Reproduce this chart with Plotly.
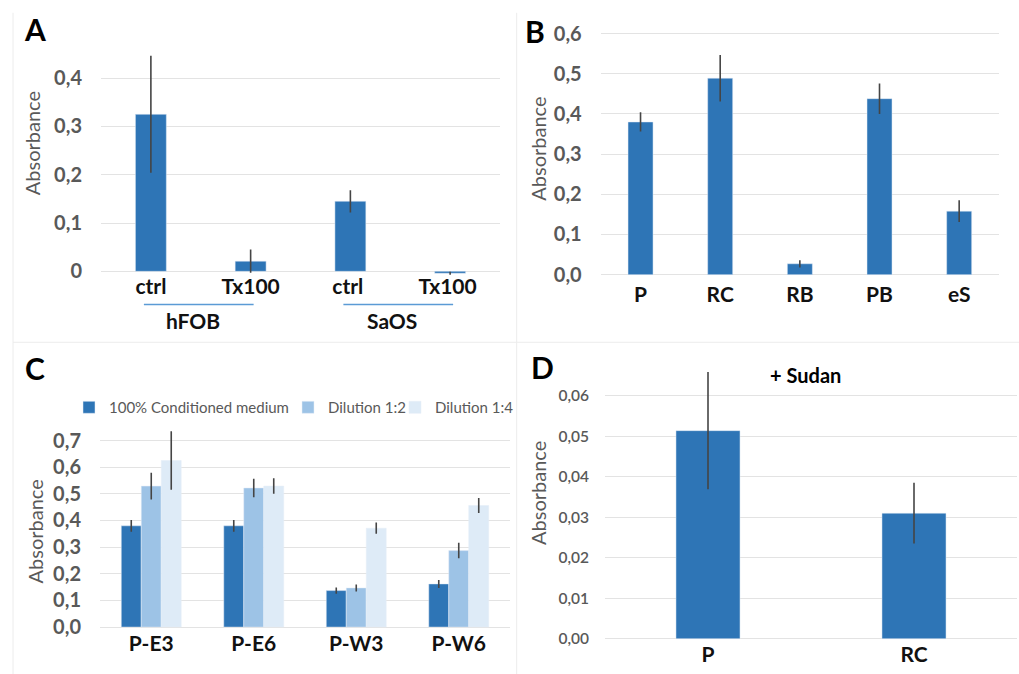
import plotly.graph_objects as go

W, H = 1019, 674
# the screenshot maps figure y to screen as y_s = OFF + S * y; compensate so that
# positions measured on the reference land where they should
S, OFF = 0.968, 11.2
def px(x): return x / W
def fy(y_ref): return (y_ref - OFF) / S
def py(y_ref): return 1 - fy(y_ref) / H

# ---------- data ----------
a_cats = ["ctrl", "Tx100", "ctrl ", "Tx100 "]
a_vals = [0.325, 0.021, 0.145, -0.004]
a_err = [0.121, 0.024, 0.023, 0.003]
a_groups = ["hFOB", "SaOS"]

b_cats = ["P", "RC", "RB", "PB", "eS"]
b_vals = [0.380, 0.489, 0.027, 0.438, 0.158]
b_err = [0.024, 0.058, 0.009, 0.038, 0.027]

c_cats = ["P-E3", "P-E6", "P-W3", "P-W6"]
c_series = ["100% Conditioned medium", "Dilution 1:2", "Dilution 1:4"]
c_vals = [
    [0.380, 0.380, 0.137, 0.162],
    [0.529, 0.522, 0.147, 0.287],
    [0.625, 0.529, 0.371, 0.456],
]
c_err = [
    [0.022, 0.022, 0.012, 0.015],
    [0.050, 0.035, 0.013, 0.029],
    [0.110, 0.029, 0.021, 0.028],
]

d_cats = ["P", "RC"]
d_vals = [0.0514, 0.0310]
d_err = [0.0145, 0.0075]

BLUE = "#2e75b6"
C_COLORS = ["#2e75b6", "#9dc3e6", "#deebf7"]
ERR = "#454545"
GRID = "#e3e3e3"
GRAY = "#595959"
FONT = "Lato"

fig = go.Figure()

def err(arr):
    return dict(type="data", array=arr, color=ERR, thickness=1.6, width=0, visible=True)

fig.add_trace(go.Bar(x=a_cats, y=a_vals, error_y=err(a_err), marker_color=BLUE,
                     width=0.31, xaxis="x", yaxis="y", showlegend=False))
fig.add_trace(go.Bar(x=b_cats, y=b_vals, error_y=err(b_err), marker_color=BLUE,
                     width=0.314, xaxis="x2", yaxis="y2", showlegend=False))
legend_ids = ["legend", "legend2", "legend3"]
for name, vals, e, col, lg in zip(c_series, c_vals, c_err, C_COLORS, legend_ids):
    fig.add_trace(go.Bar(x=c_cats, y=vals, error_y=err(e), marker_color=col, name=name,
                         xaxis="x3", yaxis="y3", showlegend=True, legend=lg))
fig.add_trace(go.Bar(x=d_cats, y=d_vals, error_y=err(d_err), marker_color=BLUE,
                     width=0.311, xaxis="x4", yaxis="y4", showlegend=False))

xt = dict(family=FONT, size=21, color="#111111", weight="bold")
yt = dict(family=FONT, size=20, color=GRAY, weight="bold")

def xax(x0, x1, anchor, standoff=0):
    return dict(domain=[px(x0), px(x1)], anchor=anchor, type="category",
                showgrid=False, showline=False, ticks="", tickfont=xt,
                ticklabelstandoff=standoff, fixedrange=True)

def yax(zero_px, scale, rng, dtick, fmt, anchor, font=yt, standoff=18):
    bottom = zero_px - rng[0] * scale
    top = zero_px - rng[1] * scale
    return dict(domain=[py(bottom), py(top)], anchor=anchor, range=rng, dtick=dtick,
                tickformat=fmt, showgrid=True, gridcolor=GRID, gridwidth=1,
                zeroline=True, zerolinecolor=GRID, zerolinewidth=1,
                showline=False, ticks="", tickfont=font, ticklabelstandoff=standoff,
                fixedrange=True)

a_rng = [-0.012, 0.455]
b_rng = [-0.002, 0.603]
c_rng = [-0.002, 0.75]
d_rng = [-0.0003, 0.067]

leg_font = dict(family=FONT, size=15, color=GRAY)
def leg(x):
    return dict(orientation="h", x=px(x), xanchor="left", y=py(407), yanchor="middle",
                font=leg_font, bgcolor="rgba(0,0,0,0)", itemwidth=30)

fig.update_layout(
    width=W, height=H, autosize=False,
    margin=dict(l=0, r=0, t=0, b=0),
    paper_bgcolor="white", plot_bgcolor="white",
    separators=", ",
    barmode="group", bargap=0.415, bargroupgap=0,
    font=dict(family=FONT, color=GRAY),
    xaxis=xax(101, 500, "y", standoff=-5),
    yaxis=yax(270.7, 483.5, a_rng, 0.1, "", "x"),
    xaxis2=xax(600.7, 999, "y2", standoff=5),
    yaxis2=yax(274.0, 402.0, b_rng, 0.1, ".1f", "x2"),
    xaxis3=xax(100, 510, "y3", standoff=1),
    yaxis3=yax(626.7, 266.7, c_rng, 0.1, ".1f", "x3"),
    xaxis4=xax(605, 1017, "y4", standoff=0),
    yaxis4=yax(638.3, 4050.0, d_rng, 0.01, ".2f", "x4",
               font=dict(family=FONT, size=15.5, color=GRAY, weight=600), standoff=15),
    legend=leg(69), legend2=leg(288), legend3=leg(395),
)

ann = []
def label(x, y, text, size, color="#000000", bold=True, angle=0):
    ann.append(dict(x=x, y=py(y), xref="paper", yref="paper", text=text, showarrow=False,
                    textangle=angle, xanchor="center", yanchor="middle",
                    font=dict(family=FONT, size=size, color=color,
                              weight="bold" if bold else "normal")))

label(px(35), 28, "A", 30)
label(px(535), 30, "B", 30)
label(px(35), 367, "C", 30)
label(px(542), 366, "D", 30)
label(px(805), 374, "+ Sudan", 20)

label(px(32), 142.5, "Absorbance", 20, color=GRAY, bold=False, angle=-90)
label(px(538), 148, "Absorbance", 20, color=GRAY, bold=False, angle=-90)
label(px(35), 531, "Absorbance", 20, color=GRAY, bold=False, angle=-90)
label(px(538), 492.5, "Absorbance", 20, color=GRAY, bold=False, angle=-90)

shapes = []
for gi, g in enumerate(a_groups):
    c0 = 2 * gi
    ann.append(dict(x=c0 + 0.42, y=py(320), xref="x", yref="paper", text=g, showarrow=False,
                    xanchor="center", yanchor="middle",
                    font=dict(family=FONT, size=21, color="#111111", weight="bold")))
    shapes.append(dict(type="line", xref="x", yref="paper", x0=c0 - 0.07, x1=c0 + 1.03,
                       y0=py(304), y1=py(304), line=dict(color="#5b9bd5", width=1.5)))

FR = "#ececec"
for (x0, y0, x1, y1) in [(13, 12, 13, 674), (516.7, 12, 516.7, 674),
                         (13, 341.7, 1019, 341.7)]:
    shapes.append(dict(type="line", xref="paper", yref="paper", x0=px(x0), x1=px(x1),
                       y0=py(y0), y1=py(y1), line=dict(color=FR, width=1)))

fig.update_layout(annotations=ann, shapes=shapes)
fig.write_html("out.html", config={"displayModeBar": False},
               post_script="document.body.style.margin='0';document.body.style.overflow='hidden';")
